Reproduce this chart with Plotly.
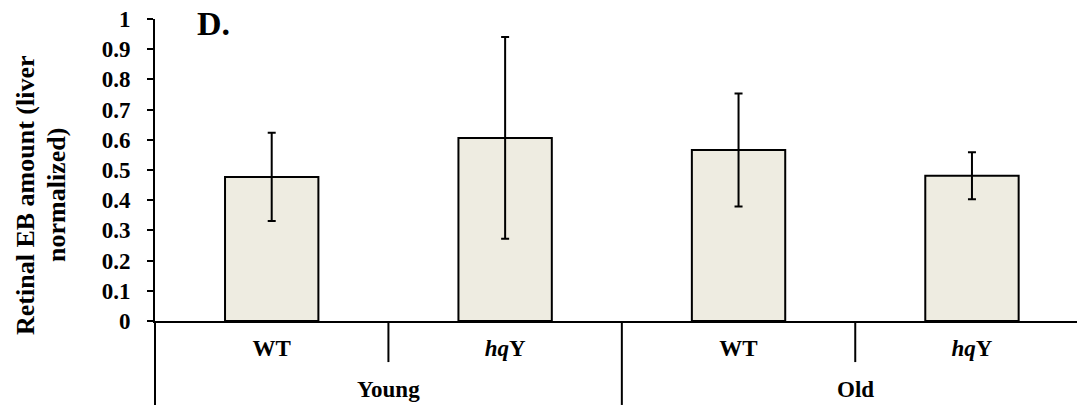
import plotly.graph_objects as go

# ---- data ----
groups = ["Young", "Young", "Old", "Old"]
genotypes = ["WT", "<i>hq</i>Y", "WT", "<i>hq</i>Y"]
means = [0.477, 0.606, 0.566, 0.481]
errors = [0.146, 0.334, 0.187, 0.078]
ytick_vals = [0, 0.1, 0.2, 0.3, 0.4, 0.5, 0.6, 0.7, 0.8, 0.9, 1]
ytick_text = ["0", "0.1", "0.2", "0.3", "0.4", "0.5", "0.6", "0.7", "0.8", "0.9", "1"]
y_title_lines = ["Retinal EB amount (liver", "normalized)"]
panel_label = "D."

FONT = "Liberation Serif, Times New Roman, serif"
positions = list(range(len(means)))

fig = go.Figure()
fig.add_trace(go.Bar(
    x=positions, y=means,
    marker=dict(color="#EEECE1", line=dict(color="black", width=2)),
    error_y=dict(type="data", array=errors, visible=True,
                 color="black", thickness=2, width=4),
    width=0.4,
    showlegend=False,
))

# separators below the category axis
shapes = []
for i in range(1, len(groups)):
    long = groups[i] != groups[i - 1]
    shapes.append(dict(type="line", xref="x", yref="paper",
                       x0=i - 0.5, x1=i - 0.5, y0=0,
                       y1=-0.278 if long else -0.136,
                       line=dict(color="black", width=2)))
# extension of the value axis down through the category area
shapes.append(dict(type="line", xref="paper", yref="paper",
                   x0=0, x1=0, y0=0, y1=-0.278,
                   line=dict(color="black", width=2)))

annotations = []
# group labels
seen = []
for g in groups:
    if g not in seen:
        seen.append(g)
for g in seen:
    idx = [i for i, gg in enumerate(groups) if gg == g]
    annotations.append(dict(x=(idx[0] + idx[-1]) / 2, y=-0.227, xref="x", yref="paper",
                            text="<b>%s</b>" % g, showarrow=False,
                            font=dict(family=FONT, size=23, color="black"),
                            xanchor="center", yanchor="middle"))
# y title (two centred lines)
for k, (line, px) in enumerate(zip(y_title_lines, [25, 56])):
    annotations.append(dict(x=(px - 155) / 922, y=(321 - 195) / 302,
                            xref="paper", yref="paper",
                            text="<b>%s</b>" % line, textangle=-90, showarrow=False,
                            font=dict(family=FONT, size=26, color="black"),
                            xanchor="center", yanchor="middle"))
# panel label
annotations.append(dict(x=(195 - 155) / 922, y=(321 - 24) / 302, xref="paper", yref="paper",
                        text="<b>%s</b>" % panel_label, showarrow=False,
                        font=dict(family=FONT, size=34, color="black"),
                        xanchor="left", yanchor="middle"))

fig.update_layout(
    width=1077, height=406,
    margin=dict(l=155, r=0, t=19, b=85),
    paper_bgcolor="white", plot_bgcolor="white",
    shapes=shapes, annotations=annotations,
    font=dict(family=FONT, color="black"),
)
fig.update_xaxes(
    range=[-0.5, 3.45], tickmode="array", tickvals=positions,
    ticktext=["<b>%s</b>" % t for t in genotypes],
    tickfont=dict(family=FONT, size=23, color="black"),
    showline=True, linecolor="black", linewidth=2,
    ticks="", showgrid=False, zeroline=False, ticklabelstandoff=5,
)
fig.update_yaxes(
    range=[0, 1], tickmode="array", tickvals=ytick_vals,
    ticktext=["<b>%s</b>" % t for t in ytick_text],
    tickfont=dict(family=FONT, size=23, color="black"),
    showline=True, linecolor="black", linewidth=2,
    ticks="outside", ticklen=6, tickwidth=2, tickcolor="black",
    showgrid=False, zeroline=False, ticklabelstandoff=12,
)

fig.write_html("out.html")
